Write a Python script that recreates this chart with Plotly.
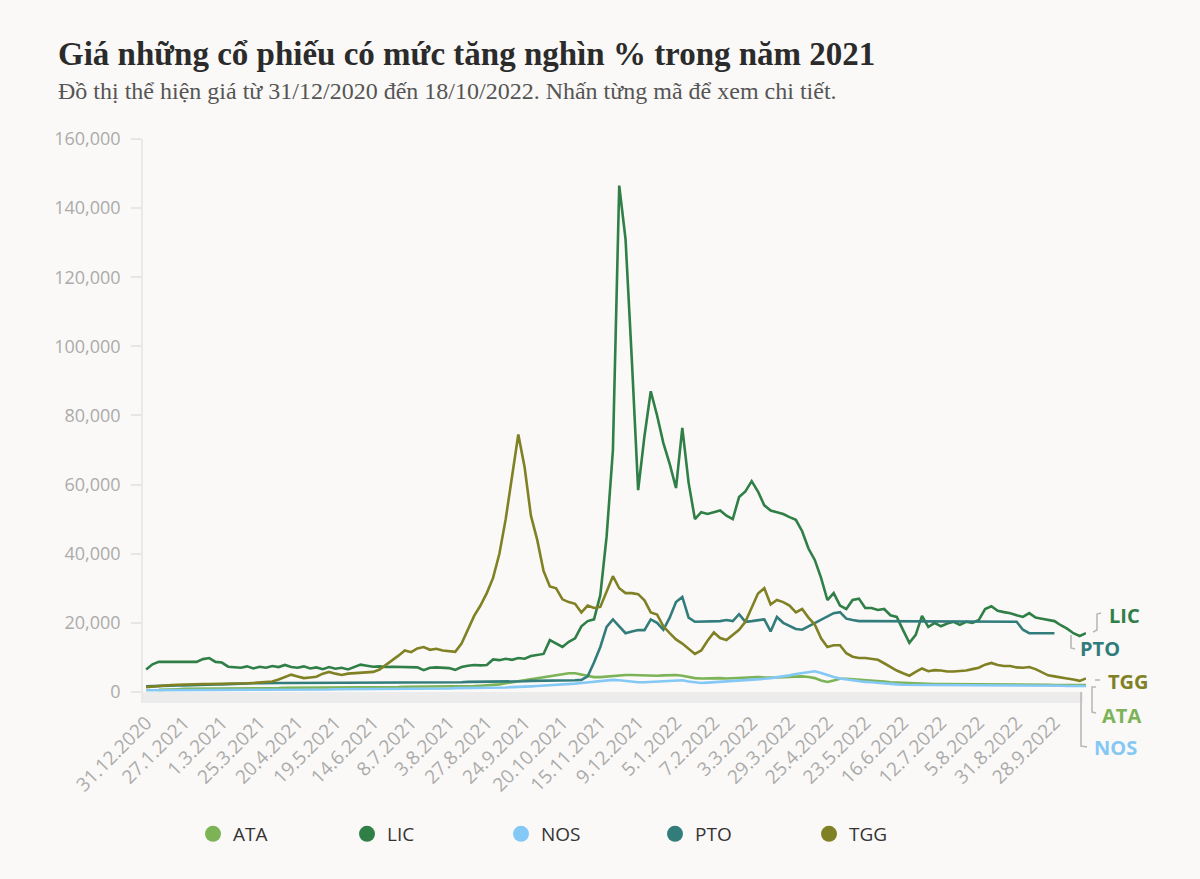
import pandas as pd
import plotly.graph_objects as go

# ---------------- DATA (prices in thousand VND -> converted to VND) ----------------
TITLE = "Giá những cổ phiếu có mức tăng nghìn % trong năm 2021"
SUBTITLE = "Đồ thị thể hiện giá từ 31/12/2020 đến 18/10/2022. Nhấn từng mã để xem chi tiết."

# Vietnamese market holidays (weekdays) in the period
HOLIDAYS = ["2021-01-01", "2021-02-10", "2021-02-11", "2021-02-12", "2021-02-15", "2021-02-16",
            "2021-04-21", "2021-04-30", "2021-05-03", "2021-09-02", "2021-09-03",
            "2022-01-03", "2022-01-31", "2022-02-01", "2022-02-02", "2022-02-03", "2022-02-04",
            "2022-04-11", "2022-05-02", "2022-05-03", "2022-09-01", "2022-09-02"]

TICK_LABELS = ["31.12.2020", "27.1.2021", "1.3.2021", "25.3.2021", "20.4.2021", "19.5.2021",
               "14.6.2021", "8.7.2021", "3.8.2021", "27.8.2021", "24.9.2021", "20.10.2021",
               "15.11.2021", "9.12.2021", "5.1.2022", "7.2.2022", "3.3.2022", "29.3.2022",
               "25.4.2022", "23.5.2022", "16.6.2022", "12.7.2022", "5.8.2022", "31.8.2022",
               "28.9.2022"]

Y_TICKS = [0, 20000, 40000, 60000, 80000, 100000, 120000, 140000, 160000]

# values read every 3rd trading session (last point = 18.10.2022), in thousand VND
ATA = [None, None, 0.6, 0.6, 0.7, 0.8, 0.9, 0.9, 1.0, 1.0,
       1.0, 1.0, 1.0, 1.0, 1.0, 1.1, 1.1, 1.1, 1.1, 1.1,
       1.1, 1.1, 1.2, 1.2, 1.2, 1.2, 1.2, 1.2, 1.3, 1.3,
       1.3, 1.3, 1.3, 1.3, 1.4, 1.4, 1.4, 1.4, 1.4, 1.4,
       1.4, 1.5, 1.5, 1.5, 1.5, 1.5, 1.6, 1.6, 1.6, 1.6,
       1.7, 1.7, 1.7, 1.8, 1.9, 2.0, 2.2, 2.5, 2.8, 3.0,
       3.3, 3.5, 3.8, 4.1, 4.4, 4.8, 5.1, 5.4, 5.4, 5.0,
       4.5, 4.3, 4.3, 4.5, 4.7, 4.8, 4.9, 4.9, 4.8, 4.7,
       4.6, 4.7, 4.8, 4.9, 4.9, 4.7, 4.3, 4.0, 3.9, 4.0,
       4.0, 4.0, 3.9, 4.0, 4.1, 4.2, 4.3, 4.3, 4.2, 4.1,
       4.2, 4.3, 4.4, 4.5, 4.5, 4.3, 4.0, 3.3, 2.9, 3.3,
       3.8, 3.8, 3.7, 3.6, 3.5, 3.3, 3.1, 3.0, 2.8, 2.7,
       2.6, 2.5, 2.4, 2.4, 2.3, 2.3, 2.3, 2.3, 2.3, 2.3,
       2.3, 2.3, 2.3, 2.2, 2.2, 2.2, 2.2, 2.2, 2.1, 2.1,
       2.1, 2.1, 2.1, 2.1, 2.0, 2.0, 2.0, 2.0, 2.0, 2.0]

LIC = [6.5, 8.0, 8.7, 8.7, 8.7, 8.7, 8.7, 8.7, 8.7, 9.5,
       9.8, 8.7, 8.5, 7.3, 7.2, 7.0, 7.4, 6.8, 7.3, 7.0,
       7.5, 7.2, 7.8, 7.2, 7.0, 7.4, 6.8, 7.1, 6.6, 7.2,
       6.7, 7.0, 6.5, 7.1, 7.9, 7.6, 7.3, 7.4, 7.2, 7.3,
       7.2, 7.3, 7.0, 7.1, 6.3, 7.0, 7.1, 7.0, 6.9, 6.4,
       7.2, 7.6, 7.8, 7.7, 7.8, 9.4, 9.2, 9.6, 9.3, 9.8,
       9.6, 10.4, 10.8, 11.0, 15.0, 14.0, 13.0, 14.5, 15.5, 19.0,
       20.5, 21.0, 28.0, 45.0, 70.0, 146.5, 131.0, 96.0, 58.4, 74.0,
       87.0, 80.0, 72.0, 66.0, 59.0, 76.4, 60.5, 50.0, 52.0, 51.5,
       52.0, 52.5, 51.0, 50.0, 56.4, 58.0, 61.0, 58.0, 54.0, 52.5,
       52.0, 51.5, 50.6, 49.8, 46.5, 41.5, 38.2, 33.0, 26.6, 28.6,
       25.0, 24.0, 26.6, 27.0, 24.3, 24.3, 23.7, 24.0, 22.2, 21.7,
       17.9, 14.2, 16.5, 22.0, 18.8, 20.0, 19.0, 19.8, 20.3, 19.4,
       20.3, 20.0, 20.8, 24.0, 24.8, 23.5, 23.1, 22.8, 22.2, 21.7,
       22.8, 21.5, 21.2, 20.9, 20.5, 19.3, 18.3, 17.0, 16.2, 17.0]

NOS = [0.5, 0.5, 0.5, 0.5, 0.5, 0.5, 0.6, 0.6, 0.6, 0.6,
       0.6, 0.6, 0.6, 0.6, 0.6, 0.6, 0.6, 0.7, 0.7, 0.7,
       0.7, 0.7, 0.7, 0.7, 0.7, 0.7, 0.7, 0.7, 0.7, 0.7,
       0.8, 0.8, 0.8, 0.8, 0.8, 0.8, 0.8, 0.9, 0.9, 0.9,
       0.9, 0.9, 0.9, 1.0, 1.0, 1.0, 1.0, 1.0, 1.0, 1.1,
       1.1, 1.1, 1.2, 1.2, 1.2, 1.3, 1.3, 1.3, 1.4, 1.4,
       1.5, 1.6, 1.7, 1.8, 1.9, 2.0, 2.0, 2.1, 2.4, 2.6,
       2.8, 3.0, 3.3, 3.4, 3.5, 3.4, 3.2, 2.9, 2.8, 2.8,
       2.9, 3.0, 3.1, 3.3, 3.4, 3.4, 3.0, 2.7, 2.6, 2.7,
       2.8, 2.9, 3.0, 3.2, 3.3, 3.4, 3.5, 3.6, 3.8, 4.0,
       4.2, 4.4, 4.8, 5.2, 5.5, 5.8, 6.0, 5.5, 4.8, 4.3,
       3.9, 3.6, 3.4, 3.1, 2.9, 2.8, 2.6, 2.5, 2.3, 2.2,
       2.1, 2.0, 2.0, 2.0, 2.0, 2.0, 2.0, 2.0, 2.0, 2.0,
       2.0, 2.0, 2.0, 2.0, 2.0, 2.0, 1.9, 1.9, 1.9, 1.9,
       1.9, 1.9, 1.8, 1.8, 1.8, 1.8, 1.7, 1.7, 1.7, 1.7]

PTO = [1.6, 1.7, 1.7, 1.8, 1.8, 1.9, 1.9, 2.0, 2.0, 2.1,
       2.1, 2.2, 2.2, 2.3, 2.3, 2.4, 2.4, 2.5, 2.5, 2.6,
       2.6, 2.6, 2.6, 2.6, 2.6, 2.7, 2.7, 2.7, 2.7, 2.7,
       2.7, 2.7, 2.7, 2.7, 2.7, 2.7, 2.7, 2.7, 2.7, 2.7,
       2.7, 2.7, 2.7, 2.8, 2.8, 2.8, 2.8, 2.8, 2.8, 2.8,
       2.8, 2.9, 2.9, 2.9, 3.0, 3.0, 3.0, 3.0, 3.1, 3.1,
       3.1, 3.2, 3.2, 3.2, 3.3, 3.3, 3.3, 3.4, 3.4, 3.5,
       4.5, 8.5, 13.0, 18.8, 21.0, 19.0, 17.0, 17.5, 17.9, 17.9,
       21.0, 20.0, 18.0, 21.5, 26.0, 27.5, 21.5, 20.3, 20.3, 20.3,
       20.4, 20.5, 20.8, 20.5, 22.5, 20.3, 20.5, 20.8, 21.0, 17.5,
       21.7, 20.0, 19.0, 18.2, 18.0, 19.0, 20.0, 21.0, 22.0, 22.8,
       23.1, 21.2, 20.8, 20.5, 20.5, 20.5, 20.5, 20.5, 20.5, 20.5,
       20.5, 20.5, 20.5, 20.5, 20.5, 20.5, 20.5, 20.5, 20.5, 20.5,
       20.5, 20.5, 20.5, 20.5, 20.5, 20.5, 20.5, 20.5, 20.3, 18.0,
       17.0, 17.0, 17.0, 17.0, 17.0, None, None, None, None, None]

TGG = [1.4, 1.6, 1.8, 1.9, 2.0, 2.1, 2.2, 2.2, 2.3, 2.3,
       2.3, 2.3, 2.3, 2.3, 2.4, 2.4, 2.5, 2.6, 2.7, 2.8,
       3.0, 3.6, 4.4, 5.0, 4.5, 4.0, 4.2, 4.4, 5.3, 5.8,
       5.3, 4.9, 5.3, 5.4, 5.5, 5.7, 5.8, 6.5, 7.8, 9.0,
       10.5, 12.0, 11.5, 12.6, 13.0, 12.2, 12.5, 12.0, 11.8, 11.6,
       14.0, 18.0, 22.0, 25.0, 28.6, 33.0, 40.0, 50.0, 62.0, 74.5,
       65.0, 51.0, 44.0, 35.0, 30.5, 30.0, 26.8, 26.0, 25.5, 23.0,
       25.0, 24.3, 24.6, 29.0, 33.5, 30.0, 28.6, 28.6, 28.3, 26.5,
       23.0, 22.4, 19.0, 17.0, 15.2, 14.0, 12.5, 11.0, 12.0, 14.8,
       17.2, 15.6, 15.0, 16.5, 18.0, 20.3, 24.5, 28.5, 30.0, 25.3,
       26.6, 26.0, 25.0, 23.0, 24.0, 21.5, 19.5, 15.5, 13.0, 13.5,
       13.5, 11.2, 10.2, 9.8, 9.8, 9.6, 9.3, 8.3, 7.2, 6.2,
       5.4, 4.7, 5.8, 6.8, 6.0, 6.3, 6.2, 5.9, 5.9, 6.0,
       6.2, 6.6, 7.0, 7.9, 8.4, 7.8, 7.5, 7.5, 7.1, 7.0,
       7.2, 6.6, 5.6, 4.8, 4.5, 4.3, 3.9, 3.6, 3.2, 3.9]

SERIES = [("ATA", ATA, "#7db357"), ("LIC", LIC, "#2f7f47"), ("NOS", NOS, "#84c8f5"),
          ("PTO", PTO, "#327d7c"), ("TGG", TGG, "#808024")]

# ---------------- trading calendar (categories) ----------------
days = [d for d in pd.bdate_range("2020-12-31", "2022-10-18") if d.strftime("%Y-%m-%d") not in HOLIDAYS]
sample = list(days[::3])
if sample[-1] != days[-1]:
    sample.append(days[-1])
cats = [f"{d.day}.{d.month}.{d.year}" for d in sample]

# ---------------- layout geometry ----------------
W, H = 1200, 879
PL, PR, PT, PB = 143, 1086, 139, 703
BG = "#faf9f7"


def px(x):
    return (x - PL) / (PR - PL)


def py(y):
    return (PB - y) / (PB - PT)


fig = go.Figure()

for name, vals, col in SERIES:
    fig.add_trace(go.Scatter(
        x=cats, y=[None if v is None else v * 1000 for v in vals], mode="lines", name=name,
        line=dict(color=col, width=2.6), showlegend=False, hoverinfo="skip"))

for name, vals, col in SERIES:
    fig.add_trace(go.Scatter(
        x=[None], y=[None], mode="markers", name=name,
        marker=dict(color=col, size=16, symbol="circle"), showlegend=True))

shapes = [
    dict(type="rect", xref="paper", yref="y", x0=0, x1=px(1083), y0=-3200, y1=0,
         fillcolor="#ececec", line=dict(width=0), layer="below"),
]
conn = dict(color="#b9b9b9", width=1.6)


def path(pts):
    return "M " + " L ".join(f"{px(a):.5f},{py(b):.5f}" for a, b in pts)


for pts in [
    [(1101, 613), (1097, 614), (1097, 630), (1093, 632)],   # LIC
    [(1071, 635), (1071, 648), (1075, 649)],                 # PTO
    [(1095, 680), (1100, 680)],                              # TGG
    [(1096, 687), (1092, 687), (1092, 712), (1096, 713)],   # ATA
    [(1081, 692), (1081, 746), (1087, 747)],                 # NOS
]:
    shapes.append(dict(type="path", xref="paper", yref="paper", path=path(pts), line=conn))

annotations = [
    dict(text=f"<b>{TITLE}</b>", x=px(56), y=py(54), xref="paper", yref="paper",
         xanchor="left", yanchor="middle", showarrow=False,
         font=dict(family="Liberation Serif", size=33, color="#2b2b2b")),
    dict(text=SUBTITLE, x=px(56), y=py(91), xref="paper", yref="paper",
         xanchor="left", yanchor="middle", showarrow=False,
         font=dict(family="Liberation Serif", size=24, color="#555555")),
]
for name, cx, cy, col in [("LIC", 1124, 615, "#2f7f47"), ("PTO", 1100, 648, "#327d7c"),
                          ("TGG", 1128, 681, "#808024"), ("ATA", 1121, 715, "#7db357"),
                          ("NOS", 1115, 747, "#84c8f5")]:
    annotations.append(dict(text=f"<b>{name}</b>", x=px(cx), y=py(cy), xref="paper", yref="paper",
                            xanchor="center", yanchor="middle", showarrow=False,
                            font=dict(family="Open Sans", size=20, color=col)))

fig.update_layout(
    width=W, height=H,
    margin=dict(l=PL, r=W - PR, t=PT, b=H - PB, pad=0, autoexpand=False),
    paper_bgcolor=BG, plot_bgcolor=BG,
    showlegend=True,
    legend=dict(orientation="h", x=px(193), y=py(815), xanchor="left", yanchor="top",
                entrywidth=109, entrywidthmode="pixels", itemclick=False, itemdoubleclick=False,
                font=dict(family="Open Sans", size=19, color="#333333"), bgcolor="rgba(0,0,0,0)"),
    xaxis=dict(type="category", categoryorder="array", categoryarray=cats,
               range=[-0.5, len(cats) - 1], tickvals=TICK_LABELS, ticktext=TICK_LABELS,
               tickangle=-45, showgrid=False, zeroline=False, showline=False, ticks="",
               automargin=False, ticklabelstandoff=4,
               tickfont=dict(family="Open Sans", size=19, color="#ababab")),
    yaxis=dict(range=[-3200, 160000], tickvals=Y_TICKS, tickformat=",", showgrid=False,
               zeroline=False, showline=True, linecolor="#e9e9e9", linewidth=1.5,
               ticks="outside", ticklen=10, tickcolor="#e6e6e6", tickwidth=1.5,
               ticklabelstandoff=7, automargin=False,
               tickfont=dict(family="Open Sans", size=18, color="#ababab")),
    shapes=shapes, annotations=annotations,
    hovermode=False,
)

fig.write_html("out.html")
